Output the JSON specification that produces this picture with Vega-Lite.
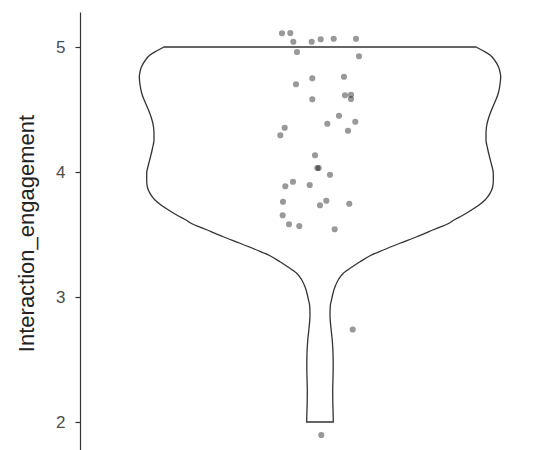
{
  "$schema": "https://vega.github.io/schema/vega-lite/v6.json",
  "autosize": "none",
  "padding": {"left": 80, "top": 12, "right": 0, "bottom": 0},
  "width": 467,
  "height": 438,
  "background": "white",
  "config": {
    "view": {"stroke": null},
    "font": "Liberation Sans",
    "axis": {"grid": false}
  },
  "datasets": {
    "violin": [
      {"value": 5.0, "xmin": -156, "xmax": 156},
      {"value": 4.97, "xmin": -163, "xmax": 163},
      {"value": 4.936, "xmin": -170, "xmax": 170},
      {"value": 4.89, "xmin": -175, "xmax": 175},
      {"value": 4.842, "xmin": -178.5, "xmax": 178.5},
      {"value": 4.8, "xmin": -180, "xmax": 180},
      {"value": 4.762, "xmin": -180.7, "xmax": 180.7},
      {"value": 4.7, "xmin": -180, "xmax": 180},
      {"value": 4.63, "xmin": -178.3, "xmax": 178.3},
      {"value": 4.56, "xmin": -175, "xmax": 175},
      {"value": 4.496, "xmin": -171.5, "xmax": 171.5},
      {"value": 4.43, "xmin": -168.5, "xmax": 168.5},
      {"value": 4.362, "xmin": -166.5, "xmax": 166.5},
      {"value": 4.3, "xmin": -166, "xmax": 166},
      {"value": 4.256, "xmin": -166, "xmax": 166},
      {"value": 4.19, "xmin": -167.5, "xmax": 167.5},
      {"value": 4.122, "xmin": -169.5, "xmax": 169.5},
      {"value": 4.06, "xmin": -171.5, "xmax": 171.5},
      {"value": 3.99, "xmin": -173.3, "xmax": 173.3},
      {"value": 3.93, "xmin": -173.3, "xmax": 173.3},
      {"value": 3.882, "xmin": -172.7, "xmax": 172.7},
      {"value": 3.829, "xmin": -170, "xmax": 170},
      {"value": 3.776, "xmin": -165, "xmax": 165},
      {"value": 3.736, "xmin": -159, "xmax": 159},
      {"value": 3.696, "xmin": -151.5, "xmax": 151.5},
      {"value": 3.65, "xmin": -142, "xmax": 142},
      {"value": 3.616, "xmin": -134, "xmax": 134},
      {"value": 3.59, "xmin": -129, "xmax": 129},
      {"value": 3.54, "xmin": -114, "xmax": 114},
      {"value": 3.482, "xmin": -96.7, "xmax": 96.7},
      {"value": 3.43, "xmin": -80, "xmax": 80},
      {"value": 3.376, "xmin": -63.3, "xmax": 63.3},
      {"value": 3.33, "xmin": -50, "xmax": 50},
      {"value": 3.282, "xmin": -40, "xmax": 40},
      {"value": 3.24, "xmin": -32, "xmax": 32},
      {"value": 3.19, "xmin": -23.3, "xmax": 23.3},
      {"value": 3.14, "xmin": -18.5, "xmax": 18.5},
      {"value": 3.082, "xmin": -15, "xmax": 15},
      {"value": 3.03, "xmin": -13, "xmax": 13},
      {"value": 2.976, "xmin": -11.5, "xmax": 11.5},
      {"value": 2.93, "xmin": -10.3, "xmax": 10.3},
      {"value": 2.85, "xmin": -10, "xmax": 10},
      {"value": 2.75, "xmin": -11, "xmax": 11},
      {"value": 2.65, "xmin": -12.3, "xmax": 12.3},
      {"value": 2.55, "xmin": -13, "xmax": 13},
      {"value": 2.45, "xmin": -13.2, "xmax": 13.2},
      {"value": 2.35, "xmin": -13, "xmax": 13},
      {"value": 2.259, "xmin": -12.7, "xmax": 12.7},
      {"value": 2.15, "xmin": -12.8, "xmax": 12.8},
      {"value": 2.08, "xmin": -13.1, "xmax": 13.1},
      {"value": 2.0, "xmin": -13.3, "xmax": 13.3}
    ],
    "points": [
      {"jitter": -38, "value": 5.11},
      {"jitter": -29.7, "value": 5.112},
      {"jitter": -26.7, "value": 5.042},
      {"jitter": -8.3, "value": 5.042},
      {"jitter": 0.7, "value": 5.062},
      {"jitter": 13.7, "value": 5.066},
      {"jitter": 36, "value": 5.066},
      {"jitter": -23, "value": 4.96},
      {"jitter": 39, "value": 4.926},
      {"jitter": -7.7, "value": 4.75},
      {"jitter": -24, "value": 4.702},
      {"jitter": 24, "value": 4.762},
      {"jitter": 25, "value": 4.614},
      {"jitter": 31, "value": 4.618},
      {"jitter": 31, "value": 4.584},
      {"jitter": -7.7, "value": 4.582},
      {"jitter": 19, "value": 4.45},
      {"jitter": 35.3, "value": 4.402},
      {"jitter": 7.3, "value": 4.386},
      {"jitter": 28, "value": 4.33},
      {"jitter": -35.3, "value": 4.354},
      {"jitter": -39.7, "value": 4.294},
      {"jitter": -5, "value": 4.134},
      {"jitter": -2.7, "value": 4.032},
      {"jitter": -1.3, "value": 4.032},
      {"jitter": 10, "value": 3.978},
      {"jitter": -27, "value": 3.922},
      {"jitter": -34.7, "value": 3.886},
      {"jitter": -10.3, "value": 3.896},
      {"jitter": -37, "value": 3.762},
      {"jitter": 6.3, "value": 3.77},
      {"jitter": 0, "value": 3.734},
      {"jitter": 29.3, "value": 3.746},
      {"jitter": -37.3, "value": 3.654},
      {"jitter": -31, "value": 3.582},
      {"jitter": -20.7, "value": 3.568},
      {"jitter": 14.7, "value": 3.542},
      {"jitter": 32.7, "value": 2.74},
      {"jitter": 1.3, "value": 1.896}
    ]
  },
  "layer": [
    {
      "data": {"name": "violin"},
      "mark": {"type": "area", "orient": "horizontal", "interpolate": "monotone", "fill": "white", "stroke": "#333333", "strokeWidth": 1.3},
      "encoding": {
        "y": {"field": "value", "type": "quantitative", "scale": {"domain": [1.776, 5.28], "nice": false, "zero": false},
          "axis": {"values": [2, 3, 4, 5], "format": "d", "title": "Interaction_engagement", "titleFontSize": 22, "titleFontWeight": "normal", "titleColor": "#222222", "titleX": -47, "titleY": 221, "titleBaseline": "alphabetic", "titleAngle": -90, "titleAlign": "center",
            "labelFontSize": 17, "labelColor": "#4d4d4d", "labelPadding": 10, "tickSize": 5, "tickColor": "#333333", "domainColor": "#333333", "domainWidth": 1.2, "tickWidth": 1.2, "labelFlush": false}},
        "x": {"field": "xmin", "type": "quantitative", "scale": {"domain": [-240, 227], "nice": false, "zero": false}, "axis": null},
        "x2": {"field": "xmax"}
      }
    },
    {
      "data": {"name": "points"},
      "mark": {"type": "circle", "size": 38, "color": "#000000", "opacity": 0.4},
      "encoding": {
        "x": {"field": "jitter", "type": "quantitative"},
        "y": {"field": "value", "type": "quantitative"}
      }
    }
  ]
}
